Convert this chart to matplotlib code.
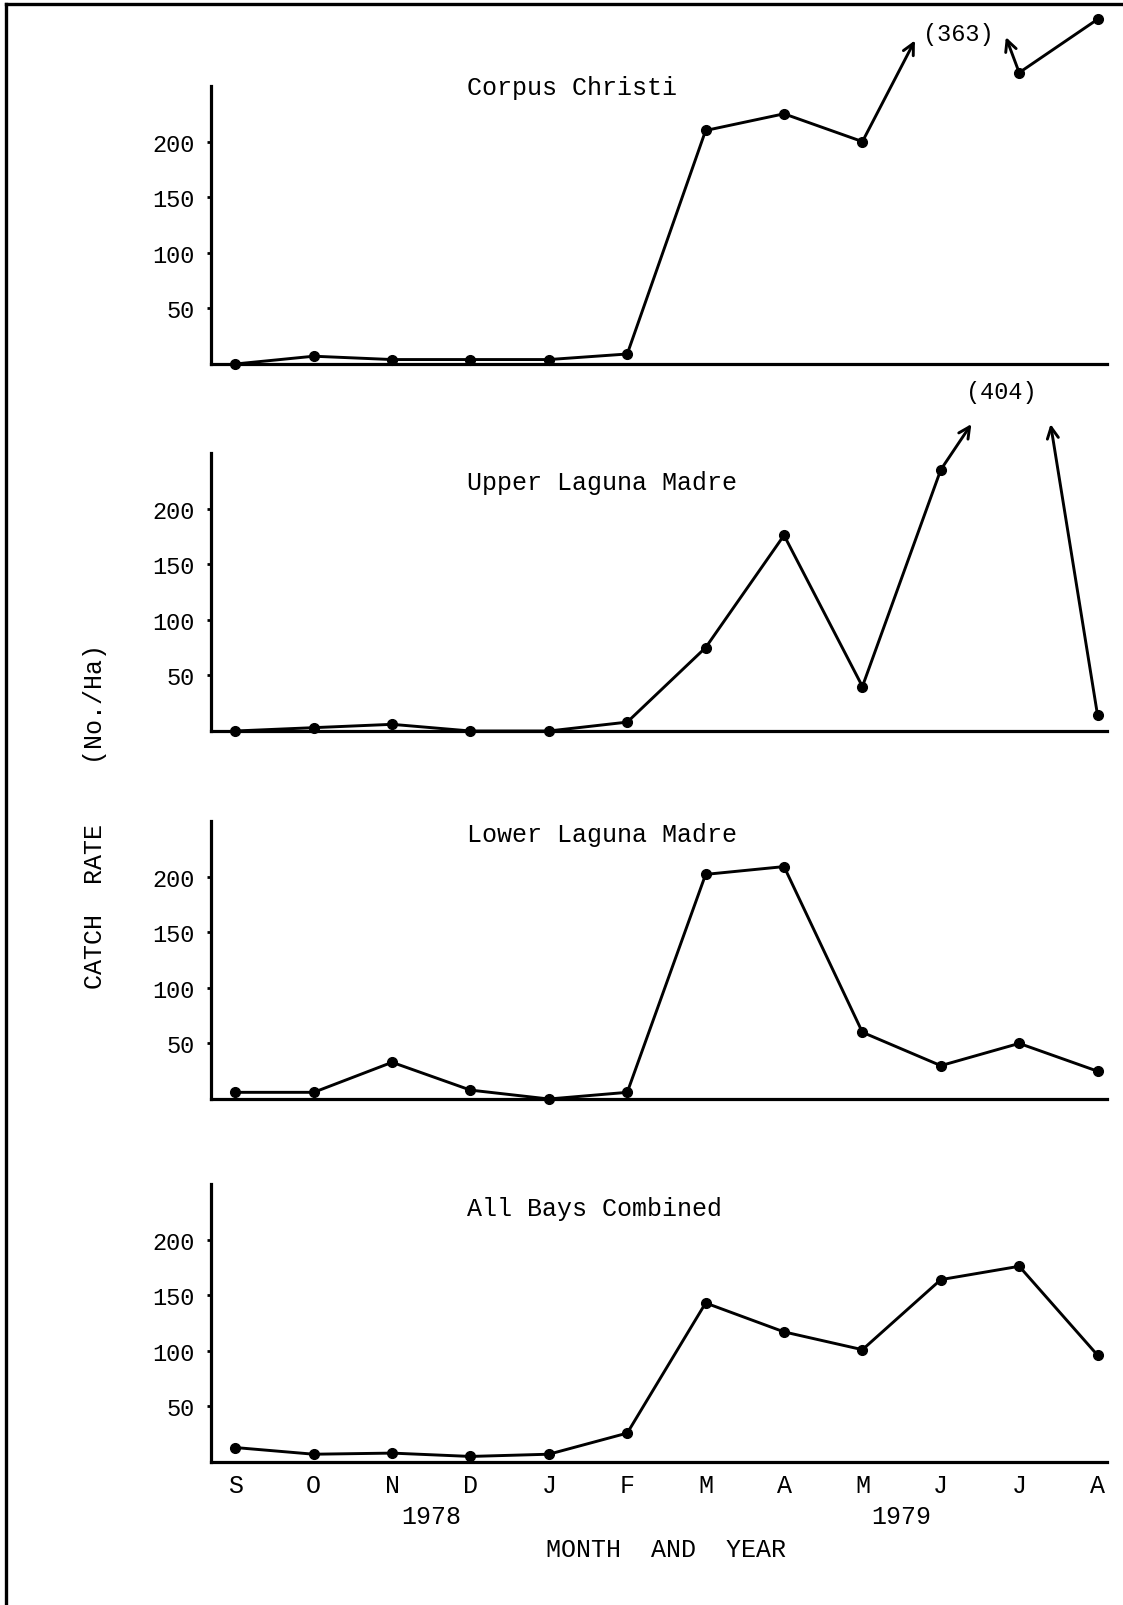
import matplotlib
matplotlib.use('Agg')
import matplotlib.pyplot as plt
import numpy as np
from matplotlib.lines import Line2D
from matplotlib.transforms import blended_transform_factory

plt.rcParams['font.family'] = ['Liberation Mono', 'DejaVu Sans Mono']

# ---------------- data ----------------
months = ['S', 'O', 'N', 'D', 'J', 'F', 'M', 'A', 'M', 'J', 'J', 'A']
year_labels = ['1978', '1979']
year_pos = [2.5, 8.5]
titles = ['Corpus Christi', 'Upper Laguna Madre', 'Lower Laguna Madre', 'All Bays Combined']
corpus = [0, 7, 4, 4, 4, 9, 210, 225, 200, 363, 262, 310]
upper = [0, 3, 6, 0, 0, 8, 75, 176, 40, 235, 404, 14]
lower = [6, 6, 33, 8, 0, 6, 202, 209, 60, 30, 50, 25]
combined = [13, 7, 8, 5, 7, 26, 143, 117, 101, 164, 176, 96]
series = [corpus, upper, lower, combined]
offscale_month = [9, 10, None, None]   # value printed instead of plotted
yticks = [50, 100, 150, 200]

# ---------------- layout ----------------
W, H = 1123, 1606
fig = plt.figure(figsize=(W / 100, H / 100), dpi=100)

left_px, right_px = 211, 1107
ax_h_px = 278
bottoms_px = [1241, 874, 506, 143]
title_y = [249, 224, 238, 228]

# arrows: (from month index, tip (x, y)) and label position per panel
arrows = {0: [(8, (8.67, 291)), (10, (9.83, 294))],
          1: [(9, (9.39, 276)), (11, (10.40, 276))]}
labels = {0: (9.22, 297), 1: (9.77, 305)}

x = np.arange(len(months))
axes = []
for i, vals in enumerate(series):
    ax = fig.add_axes([left_px / W, bottoms_px[i] / H,
                       (right_px - left_px) / W, ax_h_px / H])
    axes.append(ax)
    ax.set_xlim(-0.31, 11.12)
    ax.set_ylim(0, 250)
    for s in ['top', 'right']:
        ax.spines[s].set_visible(False)
    for s in ['left', 'bottom']:
        ax.spines[s].set_linewidth(2.3)
    ax.set_yticks(yticks)
    ax.set_yticklabels([str(t) for t in yticks])
    ax.tick_params(axis='y', length=3, width=2, pad=9, labelsize=17)
    y = np.array(vals, dtype=float)
    if offscale_month[i] is not None:
        y[offscale_month[i]] = np.nan
    ax.plot(x, y, '-o', color='black', lw=2.1, ms=7, clip_on=False)
    ax.text(2.95, title_y[i], titles[i], ha='left', va='center', fontsize=18)
    if i in arrows:
        for m, tip in arrows[i]:
            ax.annotate('', xy=tip, xytext=(m, vals[m]),
                        arrowprops=dict(arrowstyle='->', color='black', lw=2.1,
                                        shrinkA=0, shrinkB=0, mutation_scale=20),
                        annotation_clip=False)
        m = offscale_month[i]
        ax.text(labels[i][0], labels[i][1], '(%d)' % vals[m], ha='center',
                va='center', fontsize=17, clip_on=False)
    if i < 3:
        ax.set_xticks([])
    else:
        ax.set_xticks(x)
        ax.set_xticklabels(months)
        ax.tick_params(axis='x', length=0, pad=8, labelsize=18)

ax4 = axes[-1]
trans = blended_transform_factory(ax4.transData, fig.transFigure)
for lab, pos in zip(year_labels, year_pos):
    ax4.text(pos, 1 - 1517 / H, lab, transform=trans, ha='center', va='center', fontsize=18)
ax4.text(5.5, 1 - 1550 / H, 'MONTH  AND  YEAR', transform=trans, ha='center',
         va='center', fontsize=18)

fig.text(95 / W, 1 - 817 / H, 'CATCH  RATE    (No./Ha)', rotation=90,
         ha='center', va='center', fontsize=18)

# page border (left and top)
fig.add_artist(Line2D([6 / W, 6 / W], [0, 1 - 5 / H], transform=fig.transFigure,
                      color='black', lw=2.4))
fig.add_artist(Line2D([6 / W, 1], [1 - 5 / H, 1 - 5 / H], transform=fig.transFigure,
                      color='black', lw=2.4))

fig.savefig('out.png', dpi=100)
